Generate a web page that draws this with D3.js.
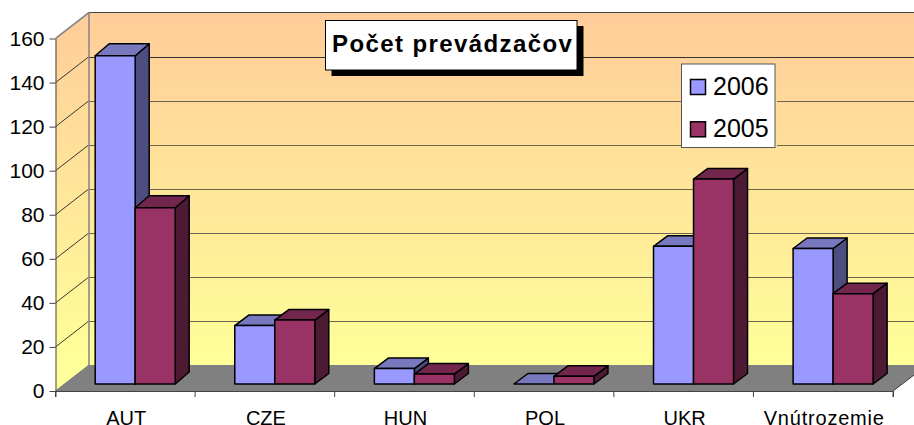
<!DOCTYPE html>
<html><head><meta charset="utf-8">
<script src="https://cdn.jsdelivr.net/npm/d3@7/dist/d3.min.js"></script>
<style>html,body{margin:0;padding:0;background:#fff;overflow:hidden}svg{display:block}text{font-family:"Liberation Sans",Arial,sans-serif;fill:#000}</style>
</head><body><svg id="c" width="914" height="425"></svg>
<script>
const categories=["AUT","CZE","HUN","POL","UKR","Vnútrozemie"];
const seriesNames=["2006","2005"];
const values2006=[149,26.5,7,0,62.5,61.5];
const values2005=[80,29,4.5,3.5,93,41];
const yTicks=[0,20,40,60,80,100,120,140,160];
const titleText="Počet prevádzačov";
const colors={"2006":{f:"#9999FF",t:"#7878BE",s:"#4D4D80"},"2005":{f:"#993366",t:"#73264D",s:"#4D1A33"}};

const svg=d3.select("#c");
const y=d3.scaleLinear().domain([0,160]).range([391,38.5]);
const x=d3.scaleBand().domain(categories).range([55.5,893]);
const depth={dx:33.5,dy:-26};
const barGroup=d3.scaleBand().domain(seriesNames).range([0,80]);
const barPlane={dx:9.5,dy:-7}, barDepth={dx:14};
const barRise=i=>i===0?-12:-10.5;

const defs=svg.append("defs");
const g=defs.append("linearGradient").attr("id","wall").attr("gradientUnits","userSpaceOnUse").attr("x1",0).attr("x2",0).attr("y1",12).attr("y2",365);
g.append("stop").attr("offset",0).attr("stop-color","#FFCC99");
g.append("stop").attr("offset",1).attr("stop-color","#FFFF99");

const pts=a=>a.map(p=>p.join(",")).join(" ");
const xL=55.5,xR=893,yTop=y(160),y0=y(0);
const D=depth;
// walls
svg.append("polygon").attr("points",pts([[xL,yTop],[xL+D.dx,yTop+D.dy],[xL+D.dx,y0+D.dy],[xL,y0]])).attr("fill","url(#wall)");
svg.append("polygon").attr("points",pts([[xL+D.dx,yTop+D.dy],[xR+D.dx,yTop+D.dy],[xR+D.dx,y0+D.dy],[xL+D.dx,y0+D.dy]])).attr("fill","url(#wall)");
// floor
svg.append("polygon").attr("points",pts([[xL,y0],[xL+D.dx,y0+D.dy],[xR+D.dx,y0+D.dy],[xR,y0]])).attr("fill","#808080");
// gridlines
yTicks.forEach(v=>{
  const yy=y(v);
  if(v>0&&v<160){
    svg.append("path").attr("d",`M${xL},${yy}L${xL+D.dx},${yy+D.dy}`).attr("stroke","#3a3a2a").attr("fill","none");
    svg.append("path").attr("d",`M${xL+D.dx},${Math.round(yy+D.dy)+.5}H914`).attr("stroke",v===140?"#333":"#6b6450").attr("fill","none");
  }
});
svg.append("path").attr("d",`M${xL+D.dx},12.5H914`).attr("stroke","#444").attr("fill","none");
svg.append("path").attr("d",`M${xL+D.dx},12.5V${y0+D.dy}`).attr("stroke","#8a8a8a").attr("stroke-width",1.6).attr("fill","none");
svg.append("path").attr("d",`M${xL},${yTop}L${xL+D.dx},12.5`).attr("stroke","#8a8a8a").attr("stroke-width",1.6).attr("fill","none");
svg.append("path").attr("d",`M${xL},${y0}L${xL+D.dx},${y0+D.dy}`).attr("stroke","#777").attr("fill","none");
svg.append("path").attr("d",`M${xR},${y0}L914,${y0-16}`).attr("stroke","#333").attr("fill","none");

// bars
const plane=y0+barPlane.dy;
const px=y(0)-y(1);
const series=[{n:"2006",v:values2006},{n:"2005",v:values2005}];
const addPoly=(p,fill)=>svg.append("polygon").attr("points",pts(p)).attr("fill",fill).attr("stroke","#000").attr("stroke-width",1.5).attr("stroke-linejoin","round");
categories.forEach((c,i)=>{
  const left=x(c)+(x.bandwidth()-80)/2+barPlane.dx+0.4;
  series.forEach(s=>{
    const a=left+barGroup(s.n),b=a+barGroup.bandwidth();
    const h=s.v[i]*px,t=plane-h,bx=barDepth.dx,by=barRise(i),col=colors[s.n];
    if(h>0) addPoly([[b,plane],[b+bx,plane+by],[b+bx,t+by],[b,t]],col.s);
    addPoly([[a,t],[a+bx,t+by],[b+bx,t+by],[b,t]],col.t);
    if(h>0) addPoly([[a,t],[b,t],[b,plane],[a,plane]],col.f);
  });
});

// axes
const yAxis=d3.axisLeft(y).tickValues(yTicks).tickSize(6).tickSizeOuter(0).tickPadding(5);
const ga=svg.append("g").attr("transform",`translate(${xL},0)`).call(yAxis);
ga.selectAll("text").attr("font-size",21).attr("font-family",'"Liberation Sans"').attr("fill","#000");
ga.selectAll("line,path").attr("stroke","#444");
const xAxis=d3.axisBottom(x).tickSize(6).tickSizeOuter(6).tickFormat(()=>"");
const gb=svg.append("g").attr("transform",`translate(0,${y0})`).call(xAxis);
gb.selectAll(".tick").remove();
gb.selectAll("path").attr("stroke","#444");
[...categories.map(c=>x(c)),xR].forEach(v=>gb.append("line").attr("x1",v).attr("x2",v).attr("y1",0).attr("y2",6).attr("stroke","#444"));
categories.forEach(c=>{
  svg.append("text").attr("x",x(c)+x.bandwidth()/2+1).attr("y",424.5).attr("text-anchor","middle").attr("font-size",20)
   .attr("letter-spacing",c==="Vnútrozemie"?0.8:0).text(c);
});

// title
svg.append("rect").attr("x",331.5).attr("y",26).attr("width",252).attr("height",50).attr("fill","#000");
svg.append("rect").attr("x",325.5).attr("y",20.5).attr("width",251.5).attr("height",49.5).attr("fill","#fff").attr("stroke","#000").attr("stroke-width",1);
svg.append("text").attr("x",332).attr("y",52).attr("font-size",24).attr("font-weight",700).attr("letter-spacing",1.4).text(titleText);

// legend
svg.append("rect").attr("x",775).attr("y",100).attr("width",2).attr("height",48).attr("fill","#fedc95");
svg.append("rect").attr("x",681.5).attr("y",64).attr("width",93.5).attr("height",83.5).attr("fill","#fff").attr("stroke","#555").attr("stroke-width",1);
series.forEach((s,i)=>{
  const yy=87+i*42.3;
  svg.append("rect").attr("x",690.5).attr("y",yy-7.5).attr("width",15).attr("height",15).attr("fill",colors[s.n].f).attr("stroke","#000").attr("stroke-width",1.5);
  svg.append("text").attr("x",713).attr("y",yy+8).attr("font-size",25).text(s.n);
});
</script></body></html>
